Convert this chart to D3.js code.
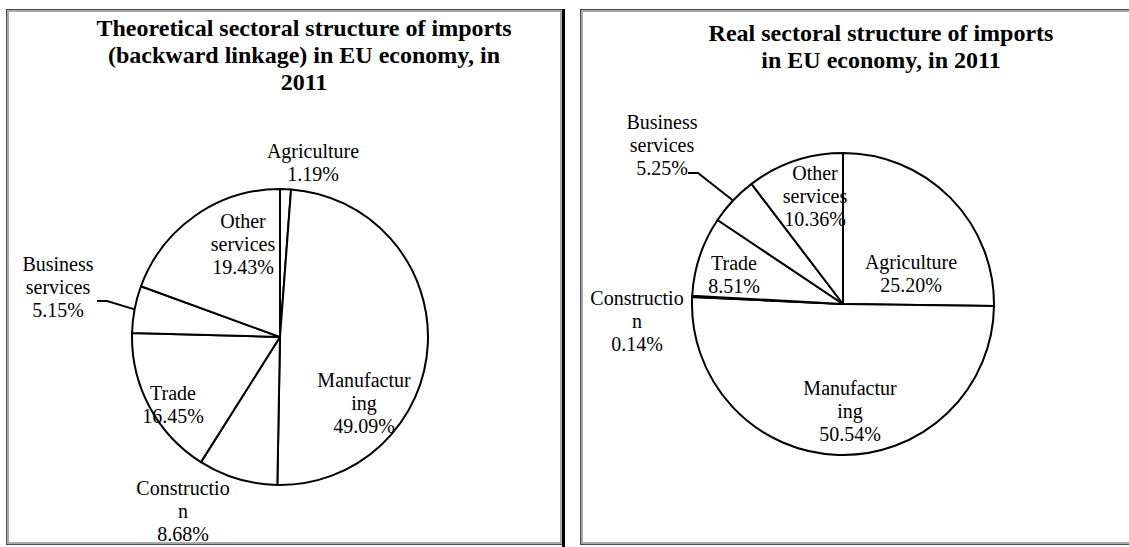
<!DOCTYPE html>
<html>
<head>
<meta charset="utf-8">
<script src="https://cdn.jsdelivr.net/npm/d3@7"></script>
<style>
  html, body { margin: 0; padding: 0; background: #fff; }
  svg { display: block; }
  text { font-family: "Liberation Serif", "Times New Roman", serif; fill: #000; }
</style>
</head>
<body>
<svg id="chart" width="1129" height="547"></svg>
<script>
// ---------- DATA ----------
const sectors = ["Agriculture", "Manufacturing", "Construction", "Trade", "Business services", "Other services"];
const theoreticalShares = [1.19, 49.09, 8.68, 16.45, 5.15, 19.43];
const realShares = [25.20, 50.54, 0.14, 8.51, 5.25, 10.36];
const sectorLabelLines = [["Agriculture"], ["Manufactur", "ing"], ["Constructio", "n"], ["Trade"], ["Business", "services"], ["Other", "services"]];
const titleLeft = ["Theoretical sectoral structure of imports", "(backward linkage) in EU economy, in", "2011"];
const titleRight = ["Real sectoral structure of imports", "in EU economy, in 2011"];

// ---------- LAYOUT ----------
const svg = d3.select("#chart");
const panels = [
  {
    x0: 6, x1: 562, title: titleLeft, titleX: 304, titleY: 28,
    values: theoreticalShares, cx: 280, cy: 337, r: 148,
    labelPos: [[313, 151], [364, 380], [183, 488], [173, 393], [58, 264], [243, 221]],
    leader: { index: 4, from: [97, 301], elbow: [107, 301] }
  },
  {
    x0: 580, x1: 1140, title: titleRight, titleX: 881, titleY: 33,
    values: realShares, cx: 843, cy: 304, r: 151,
    labelPos: [[911, 262], [850, 388], [637, 298], [734, 263], [662, 122], [815, 173]],
    leader: { index: 4, from: [688, 173], elbow: [698, 173] }
  }
];
const lineStep = 23;

// panel frames
panels.forEach(p => {
  svg.append("rect").attr("x", p.x0 + 0.5).attr("y", 9.5).attr("width", p.x1 - p.x0).attr("height", 535)
    .attr("fill", "#fff").attr("stroke", "#4a4a4a").attr("stroke-width", 1);
  svg.append("rect").attr("x", p.x0 + 2).attr("y", 11).attr("width", p.x1 - p.x0 - 3).attr("height", 532)
    .attr("fill", "none").attr("stroke", "#a8a8a8").attr("stroke-width", 2);
});
svg.append("line").attr("x1", 563.5).attr("x2", 563.5).attr("y1", 9).attr("y2", 547)
  .attr("stroke", "#000").attr("stroke-width", 3);

const pie = d3.pie().sort(null).value(d => d);

panels.forEach(p => {
  const g = svg.append("g");
  // title
  const t = g.append("text").attr("text-anchor", "middle").attr("font-weight", "bold").attr("font-size", 24);
  p.title.forEach((line, i) => {
    t.append("tspan").attr("x", p.titleX).attr("y", p.titleY + i * 27).attr("dominant-baseline", "central").text(line);
  });

  const arcs = pie(p.values);
  const arc = d3.arc().innerRadius(0).outerRadius(p.r);
  const pg = g.append("g").attr("transform", `translate(${p.cx},${p.cy})`);
  pg.selectAll("path").data(arcs).join("path")
    .attr("d", arc)
    .attr("fill", "#fff")
    .attr("stroke", "#000")
    .attr("stroke-width", 2)
    .attr("stroke-linejoin", "round");

  // labels
  arcs.forEach((a, i) => {
    const [lx, ly] = p.labelPos[i];
    const lines = sectorLabelLines[i].concat([p.values[i].toFixed(2) + "%"]);
    const txt = g.append("text").attr("text-anchor", "middle").attr("font-size", 20);
    lines.forEach((ln, k) => {
      txt.append("tspan").attr("x", lx).attr("y", ly + k * lineStep).attr("dominant-baseline", "central").text(ln);
    });
  });

  // leader line
  const la = arcs[p.leader.index];
  const mid = (la.startAngle + la.endAngle) / 2;
  const ex = p.cx + p.r * Math.sin(mid), ey = p.cy - p.r * Math.cos(mid);
  g.append("polyline")
    .attr("points", [p.leader.from, p.leader.elbow, [ex, ey]].map(q => q.join(",")).join(" "))
    .attr("fill", "none").attr("stroke", "#000").attr("stroke-width", 2);
});
</script>
</body>
</html>
